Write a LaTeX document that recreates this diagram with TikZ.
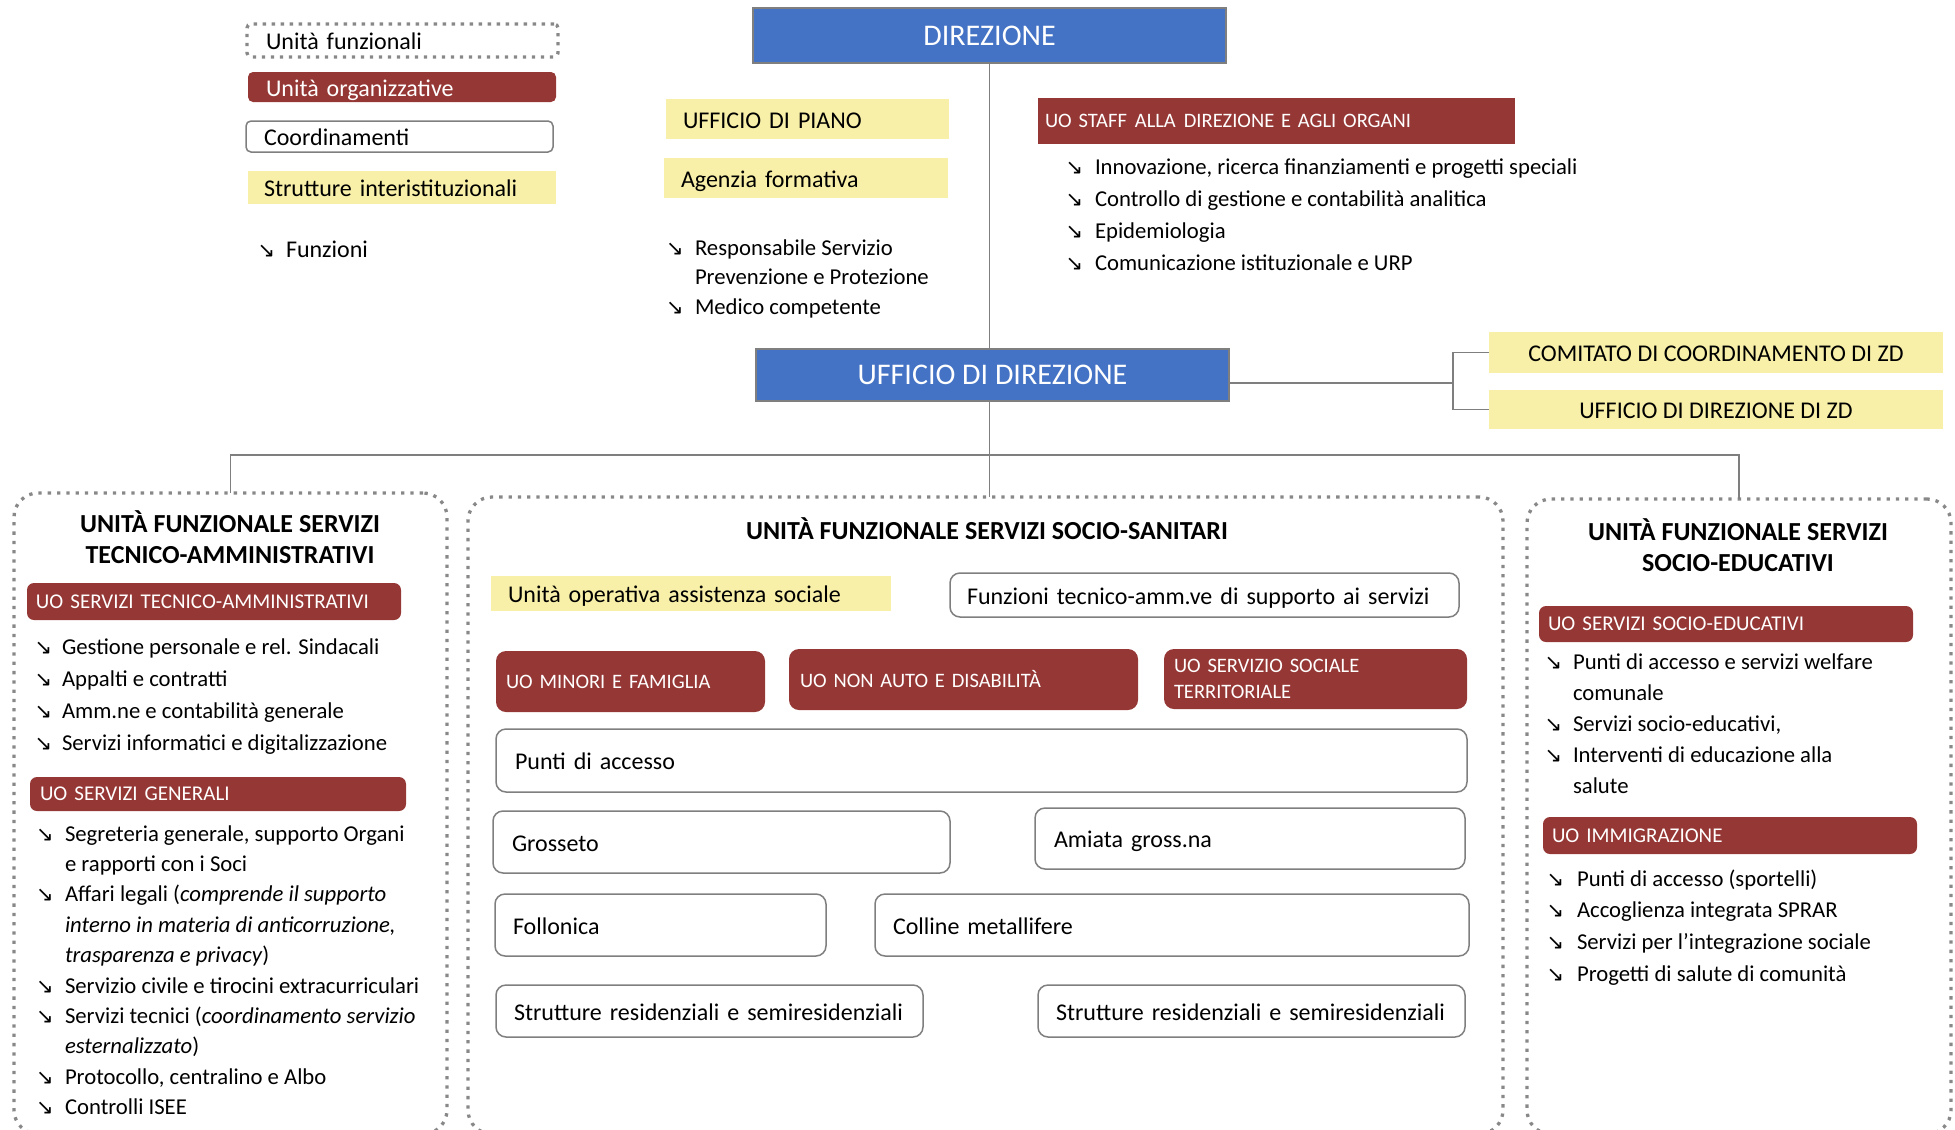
\documentclass[tikz,border=0pt]{standalone}
\usepackage{fontspec}
\setmainfont{Carlito}
\newfontfamily\arrowfont{DejaVu Sans}
\usepackage{array}
\definecolor{ublue}{HTML}{4472C4}
\definecolor{ured}{HTML}{953735}
\definecolor{uyel}{HTML}{F8F0A8}
\definecolor{ugray}{HTML}{7F7F7F}
\definecolor{udot}{HTML}{888888}
\newcommand\fs[2]{\fontsize{#1}{#2}\selectfont}
\newcommand\bularr{{\arrowfont\fontsize{21}{21}\selectfont ↘}}
\newcommand\bulw[1]{\makebox[#1][l]{\bularr}}
\tikzset{
  every node/.style={inner sep=0pt, outer sep=0pt},
  conn/.style={draw=ugray, line width=1.3pt},
  bluebox/.style={fill=ublue, draw=ugray, line width=1.3pt, text=white, font=\fs{30}{36}},
  yelbox/.style={fill=uyel, align=left, font=\fs{24}{29}, text height=18pt, text depth=0pt},
  redbox/.style={fill=ured, text=white, rounded corners=#1, align=left, font=\fs{20.5}{26}},
  redbox/.default=8pt,
  whitebox/.style={draw=ugray, line width=1.5pt, rounded corners=10pt, fill=white, align=left, font=\fs{24}{29}, text height=18pt, text depth=0pt},
  dotbox/.style={draw=udot, line width=3.3pt, dash pattern=on 3.3pt off 5.7pt, rounded corners=4pt, align=left, font=\fs{24}{29}, text height=18pt, text depth=0pt},
  panel/.style={draw=udot, line width=3.3pt, dash pattern=on 3.3pt off 6pt, rounded corners=24pt},
  titlenode/.style={align=center, font=\bfseries\fs{26}{31}},
  listnode/.style={anchor=base west, align=left, font=\fs{22.7}{#1}},
  listnode/.default=32pt
}
\begin{document}
\begin{tikzpicture}[x=1pt,y=-1pt]
\path[use as bounding box] (0,0) rectangle (1955,1130);
\clip (0,0) rectangle (1955,1130);

% legend
\node[dotbox, minimum width=311pt, minimum height=33pt, text width=311pt] (lf) at (402.5,40.5) {\hspace*{19pt}Unità funzionali};
\node[redbox=5pt, font=\fs{24}{29}, text height=18pt, text depth=0pt, minimum width=308pt, minimum height=30pt, text width=308pt] (lo) at (402,87) {\hspace*{18pt}Unità organizzative};
\node[whitebox, rounded corners=5pt, minimum width=307pt, minimum height=31pt, text width=307pt] (lc) at (399.5,136.5) {\hspace*{18pt}Coordinamenti};
\node[yelbox, minimum width=308pt, minimum height=33pt, text width=308pt] (ls) at (402,187.5) {\hspace*{16pt}Strutture interistituzionali};
\node[listnode, font=\fs{24}{29}] (lfn) at (257.5,257) {\bulw{28.5pt}Funzioni};

% top
\node[bluebox, minimum width=473pt, minimum height=55pt] (dir) at (989.5,35.5) {DIREZIONE};
\node[bluebox, minimum width=473pt, minimum height=52pt] (udd) at (992.5,375) {UFFICIO DI DIREZIONE};

\node[yelbox, minimum width=283pt, minimum height=40pt, text width=283pt] (piano) at (807.5,119) {\hspace*{17pt}UFFICIO DI PIANO};
\node[yelbox, minimum width=284pt, minimum height=40pt, text width=284pt] (agenzia) at (806,178) {\hspace*{17pt}Agenzia formativa};
\node[listnode=29.5pt] (rspp) at (666,255) {\begin{tabular}[t]{@{}l@{}l@{}}
\bulw{29pt}&Responsabile Servizio\\
&Prevenzione e Protezione\\
\bulw{29pt}&Medico competente
\end{tabular}};

\node[fill=ured, text=white, minimum width=477pt, minimum height=46pt, text width=477pt, align=left, font=\fs{20.5}{24}] (staff) at (1276.5,121) {\hspace*{7pt}UO STAFF\hspace{8pt}ALLA\hspace{8pt}DIREZIONE E AGLI ORGANI};
\node[listnode=32pt] (stl) at (1065.5,174) {\begin{tabular}[t]{@{}l@{}l@{}}
\bulw{29.5pt}&Innovazione, ricerca finanziamenti e progetti speciali\\
\bulw{29.5pt}&Controllo di gestione e contabilità analitica\\
\bulw{29.5pt}&Epidemiologia\\
\bulw{29.5pt}&Comunicazione istituzionale e URP
\end{tabular}};

\node[yelbox, minimum width=454pt, minimum height=41pt] (com) at (1716,352.5) {COMITATO DI COORDINAMENTO DI ZD};
\node[yelbox, minimum width=454pt, minimum height=39pt] (uzd) at (1716,409.5) {UFFICIO DI DIREZIONE DI ZD};

% panels
\node[panel, minimum width=433pt, minimum height=641pt] (pleft) at (230.5,813.5) {};
\node[panel, minimum width=1035pt, minimum height=637pt] (pmid) at (985.5,815.5) {};
\node[panel, minimum width=424pt, minimum height=635pt] (pright) at (1739,816.5) {};

% connectors
\coordinate (bus) at (989.5,455);
\coordinate (zdj) at (1453,383);
\draw[conn] (dir.south) -- (dir.south |- udd.north);
\draw[conn] (dir.south |- udd.south) -- (dir.south |- pmid.north);
\draw[conn] (pleft.north) -- (pleft.north |- bus) -- (pright.north |- bus) -- (pright.north);
\draw[conn] (udd.east |- zdj) -- (zdj);
\draw[conn] (com.west) -| (zdj) |- (uzd.west);

% left panel
\node[titlenode] (tl) at (230,537) {UNITÀ FUNZIONALE SERVIZI\\TECNICO-AMMINISTRATIVI};
\node[redbox=7pt, font=\fs{21}{26}, minimum width=374pt, minimum height=37pt, text width=374pt] (uota) at (214,601.5) {\hspace*{9pt}UO SERVIZI TECNICO-AMMINISTRATIVI};
\node[listnode=32pt] (lla) at (34.5,654) {\begin{tabular}[t]{@{}l@{}l@{}}
\bulw{27.5pt}&Gestione personale e rel. Sindacali\\
\bulw{27.5pt}&Appalti e contratti\\
\bulw{27.5pt}&Amm.ne e contabilità generale\\
\bulw{27.5pt}&Servizi informatici e digitalizzazione
\end{tabular}};
\node[redbox=7pt, font=\fs{21}{26}, minimum width=376pt, minimum height=34pt, text width=376pt] (uosg) at (218,794) {\hspace*{10pt}UO SERVIZI GENERALI};
\node[listnode=30.4pt] (llb) at (36,841) {\begin{tabular}[t]{@{}l@{}l@{}}
\bulw{29pt}&Segreteria generale, supporto Organi\\
&e rapporti con i Soci\\
\bulw{29pt}&Affari legali (\textit{comprende il supporto}\\
&\textit{interno in materia di anticorruzione,}\\
&\textit{trasparenza e privacy})\\
\bulw{29pt}&Servizio civile e tirocini extracurriculari\\
\bulw{29pt}&Servizi tecnici (\textit{coordinamento servizio}\\
&\textit{esternalizzato})\\
\bulw{29pt}&Protocollo, centralino e Albo\\
\bulw{29pt}&Controlli ISEE
\end{tabular}};

% middle panel
\node[titlenode] (tm) at (987,529) {UNITÀ FUNZIONALE SERVIZI SOCIO-SANITARI};
\node[yelbox, minimum width=400pt, minimum height=35pt, text width=400pt] (uoas) at (691,593.5) {\hspace*{17pt}Unità operativa assistenza sociale};
\node[whitebox, minimum width=509pt, minimum height=44pt, text width=509pt] (funz) at (1204.5,595) {\hspace*{17pt}Funzioni tecnico-amm.ve di supporto ai servizi};
\node[redbox=10pt, minimum width=269pt, minimum height=61pt, text width=269pt] (minori) at (630.5,681.5) {\hspace*{10pt}UO MINORI E FAMIGLIA};
\node[redbox=10pt, minimum width=349pt, minimum height=61pt, text width=349pt] (nonauto) at (963.5,679.5) {\hspace*{11pt}UO NON AUTO\ E DISABILITÀ};
\node[redbox=10pt, minimum width=303pt, minimum height=60pt, text width=303pt] (sst) at (1315.5,679) {\hspace*{10pt}UO SERVIZIO SOCIALE\\\hspace*{10pt}TERRITORIALE};
\node[whitebox, minimum width=971pt, minimum height=63pt, text width=971pt] (punti) at (981.5,760.5) {\hspace*{19pt}Punti di accesso};
\node[whitebox, minimum width=457pt, minimum height=62pt, text width=457pt] (gro) at (721.5,842) {\hspace*{19pt}Grosseto};
\node[whitebox, minimum width=430pt, minimum height=61pt, text width=430pt] (ami) at (1250,838.5) {\hspace*{19pt}Amiata gross.na};
\node[whitebox, minimum width=331pt, minimum height=62pt, text width=331pt] (fol) at (660.5,925) {\hspace*{18pt}Follonica};
\node[whitebox, minimum width=594pt, minimum height=62pt, text width=594pt] (col) at (1172,925) {\hspace*{18pt}Colline metallifere};
\node[whitebox, minimum width=427pt, minimum height=52pt, text width=427pt] (str1) at (709.5,1011) {\hspace*{18pt}Strutture residenziali e semiresidenziali};
\node[whitebox, minimum width=427pt, minimum height=52pt, text width=427pt] (str2) at (1251.5,1011) {\hspace*{18pt}Strutture residenziali e semiresidenziali};

% right panel
\node[titlenode] (tr) at (1738,545) {UNITÀ FUNZIONALE SERVIZI\\SOCIO-EDUCATIVI};
\node[redbox=7pt, font=\fs{21}{26}, minimum width=374pt, minimum height=36pt, text width=374pt] (uose) at (1726,624) {\hspace*{9pt}UO SERVIZI SOCIO-EDUCATIVI};
\node[listnode=31pt] (rla) at (1544.5,669) {\begin{tabular}[t]{@{}l@{}l@{}}
\bulw{28.5pt}&Punti di accesso\ e servizi welfare\\
&comunale\\
\bulw{28.5pt}&Servizi socio-educativi,\\
\bulw{28.5pt}&Interventi di educazione alla\\
&salute
\end{tabular}};
\node[redbox=7pt, font=\fs{21}{26}, minimum width=374pt, minimum height=37pt, text width=374pt] (uoimm) at (1730,835.5) {\hspace*{9pt}UO IMMIGRAZIONE};
\node[listnode=31.7pt] (rlb) at (1546.5,886) {\begin{tabular}[t]{@{}l@{}l@{}}
\bulw{30.5pt}&Punti di accesso\ (sportelli)\\
\bulw{30.5pt}&Accoglienza integrata SPRAR\\
\bulw{30.5pt}&Servizi per l’integrazione sociale\\
\bulw{30.5pt}&Progetti di salute di comunità
\end{tabular}};
\end{tikzpicture}
\end{document}
